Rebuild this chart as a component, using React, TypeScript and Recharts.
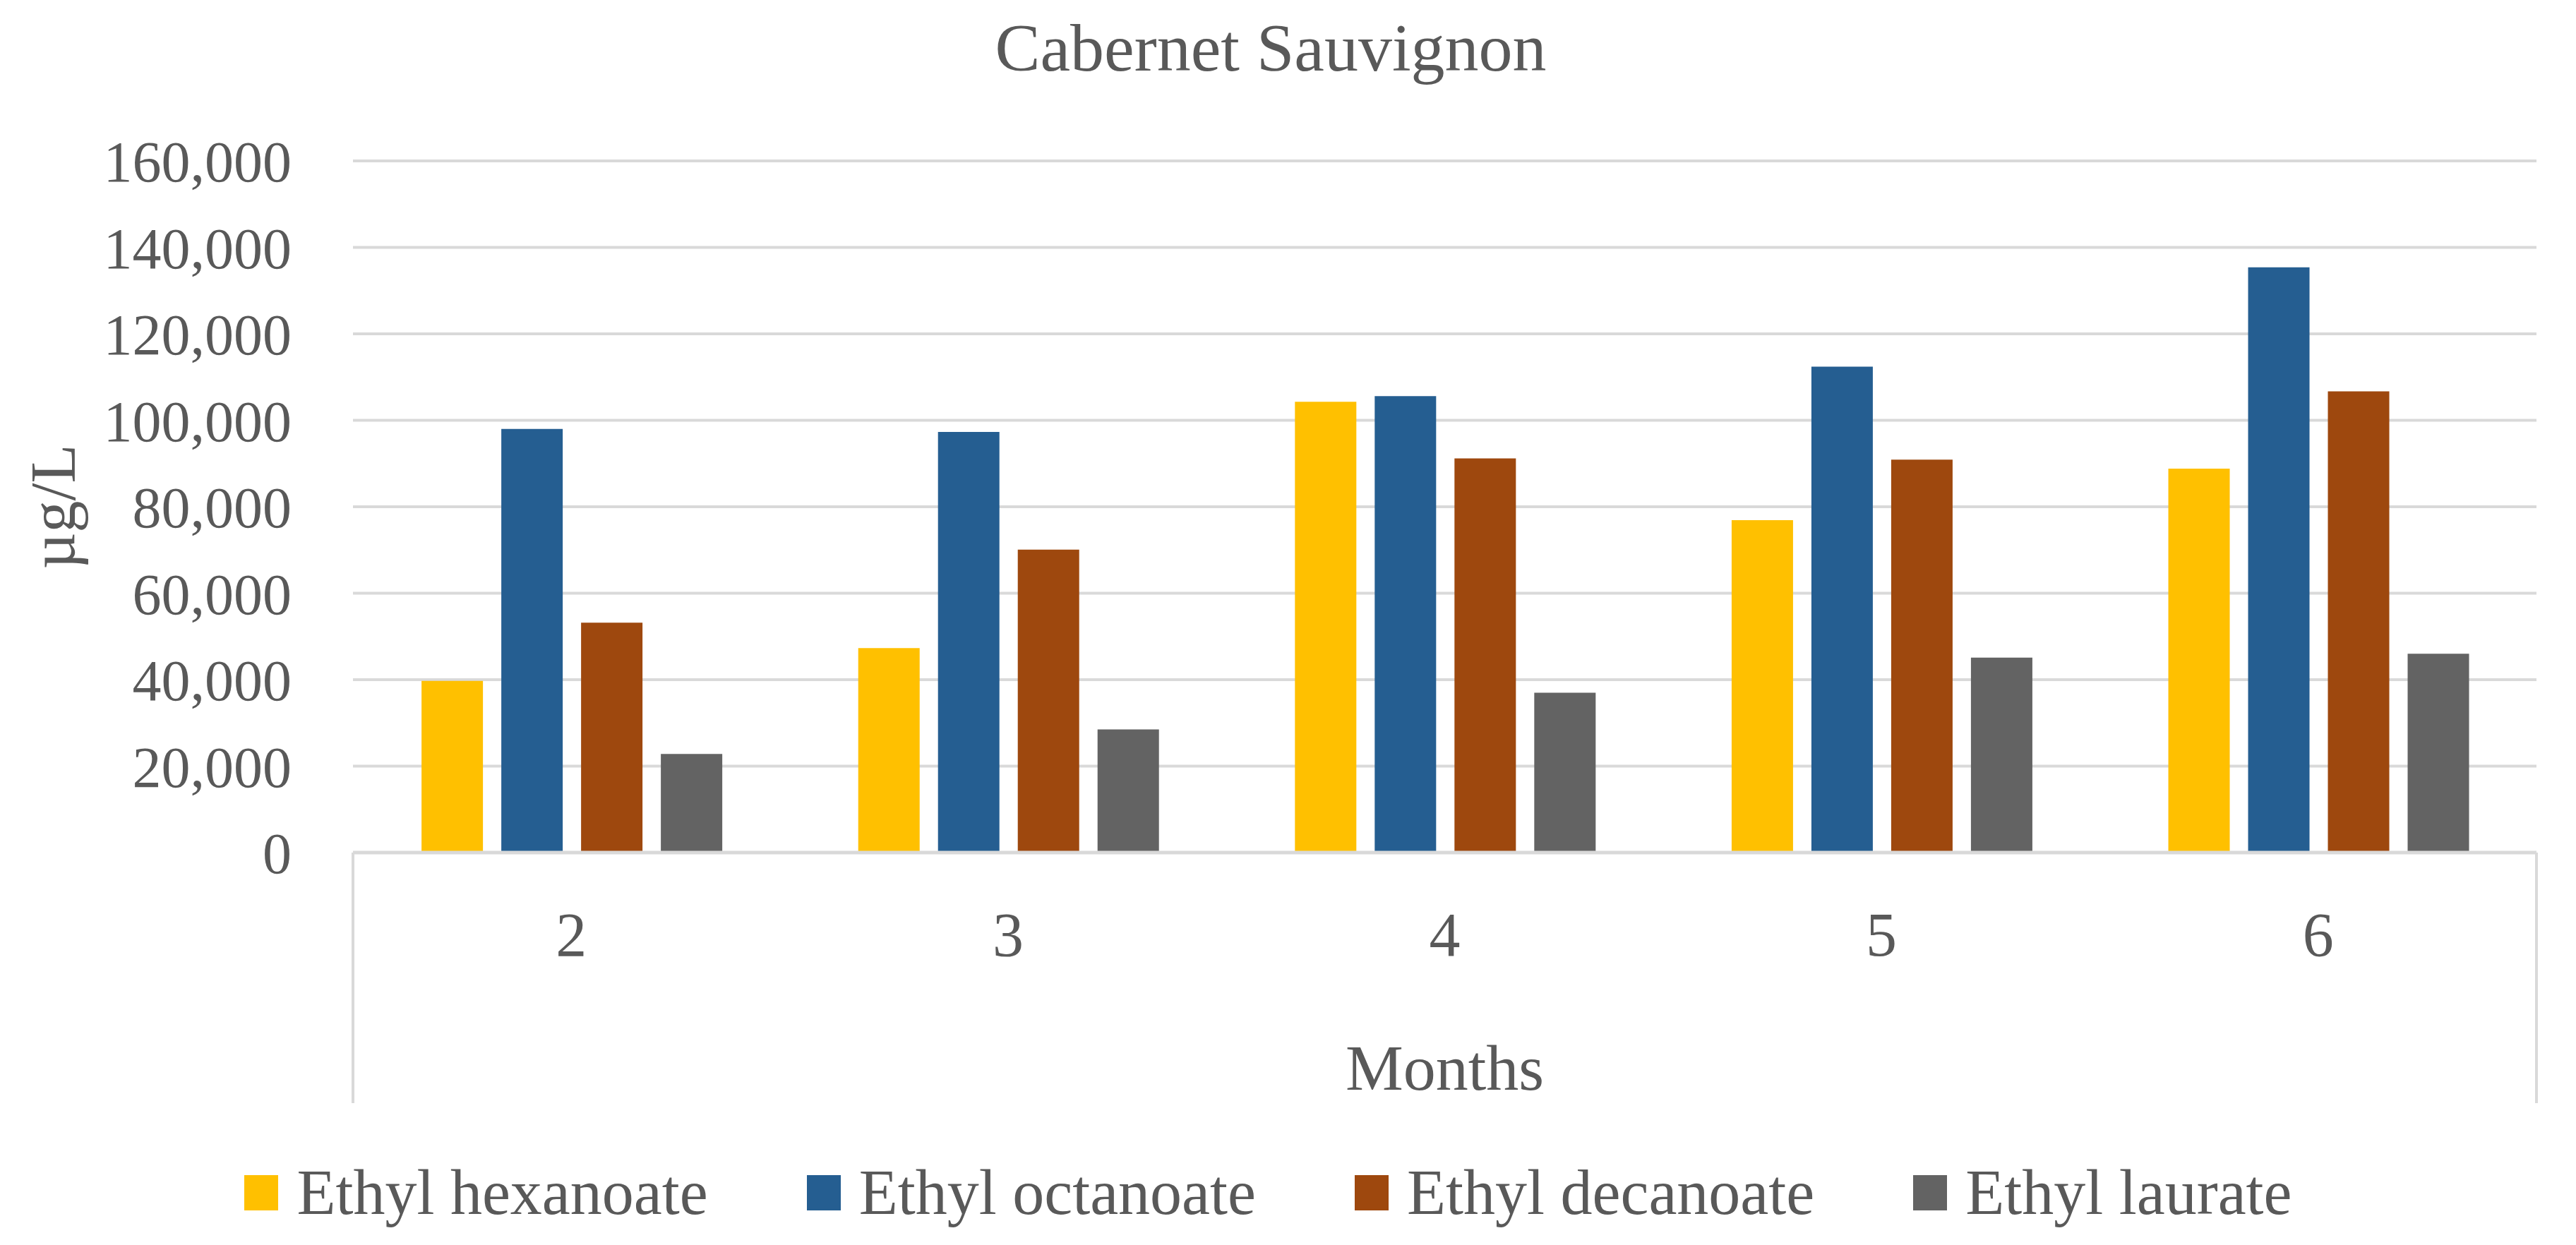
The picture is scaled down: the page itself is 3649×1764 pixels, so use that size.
import React from "react";
import {
  BarChart, Bar, XAxis, YAxis, CartesianGrid, Legend,
} from "recharts";

const months = ["2", "3", "4", "5", "6"];
const seriesNames = ["Ethyl hexanoate", "Ethyl octanoate", "Ethyl decanoate", "Ethyl laurate"];
const seriesColors = ["#FFC000", "#255E91", "#9E480E", "#636363"];
const hexanoate = [39700, 47300, 104300, 76900, 88800];
const octanoate = [98000, 97300, 105600, 112400, 135400];
const decanoate = [53200, 70100, 91200, 90900, 106700];
const laurate = [22800, 28500, 37000, 45100, 46000];
const yTicks = [0, 20000, 40000, 60000, 80000, 100000, 120000, 140000, 160000];

const data = months.map((m, i) => ({
  month: m,
  "Ethyl hexanoate": hexanoate[i],
  "Ethyl octanoate": octanoate[i],
  "Ethyl decanoate": decanoate[i],
  "Ethyl laurate": laurate[i],
}));

const FONT = '"Liberation Serif", "Times New Roman", serif';
const TEXT = "#595959";
const GRID = "#D9D9D9";

function fmt(v: number) {
  return v.toLocaleString("en-US");
}

function MonthsLabel(props: any) {
  const { x, y, width, height } = props.viewBox;
  return (
    <g>
      <line x1={x} y1={y} x2={x} y2={y + height} stroke={GRID} strokeWidth={4} />
      <line x1={x + width} y1={y} x2={x + width} y2={y + height} stroke={GRID} strokeWidth={4} />
      <text
        x={x + width / 2}
        y={y + 305}
        textAnchor="middle"
        dominantBaseline="central"
        fill={TEXT}
        fontSize={92}
        fontFamily={FONT}
      >
        Months
      </text>
    </g>
  );
}

function UnitLabel(props: any) {
  const { x, y, height } = props.viewBox;
  const cx = x + 75;
  const cy = y + height / 2;
  return (
    <text
      x={cx}
      y={cy}
      transform={`rotate(-90 ${cx} ${cy})`}
      textAnchor="middle"
      dominantBaseline="central"
      fill={TEXT}
      fontSize={90}
      fontFamily={FONT}
    >
      µg/L
    </text>
  );
}

function LegendContent({ payload }: any) {
  // keep the series order, not the alphabetical one
  const items = [...(payload || [])].sort(
    (a: any, b: any) => seriesNames.indexOf(a.value) - seriesNames.indexOf(b.value)
  );
  return (
    <div
      style={{
        height: 201,
        boxSizing: "border-box",
        paddingTop: 53,
        display: "flex",
        alignItems: "center",
        justifyContent: "center",
        gap: 140,
        fontFamily: FONT,
        fontSize: 90,
        color: TEXT,
      }}
    >
      {items.map((p: any) => (
        <div key={p.value} style={{ display: "flex", alignItems: "center" }}>
          <span style={{ width: 48, height: 50, background: p.color, marginRight: 26, display: "inline-block" }} />
          <span style={{ lineHeight: 1 }}>{p.value}</span>
        </div>
      ))}
    </div>
  );
}

export default function App() {
  return (
    <div style={{ position: "absolute", left: 0, top: 0, width: 3649, height: 1764, background: "#fff" }}>
      <div
        style={{
          position: "absolute",
          left: 1300,
          width: 1000,
          top: 0,
          height: 136,
          lineHeight: "136px",
          textAlign: "center",
          fontFamily: FONT,
          fontSize: 96,
          color: TEXT,
        }}
      >
        Cabernet Sauvignon
      </div>
      <BarChart
        width={3649}
        height={1764}
        data={data}
        margin={{ top: 228, right: 56, left: 0, bottom: 0 }}
        barCategoryGap="15.7%"
        barGap={26}
      >
        <CartesianGrid vertical={false} stroke={GRID} strokeWidth={4} />
        <XAxis
          dataKey="month"
          height={355}
          axisLine={{ stroke: GRID, strokeWidth: 5 }}
          tickLine={false}
          tickSize={0}
          tickMargin={84}
          tick={{ fill: TEXT, fontSize: 88, fontFamily: FONT }}
          label={(p: any) => <MonthsLabel {...p} />}
        />
        <YAxis
          width={500}
          domain={[0, 160000]}
          ticks={yTicks}
          tickFormatter={fmt}
          axisLine={false}
          tickLine={false}
          tickSize={0}
          tickMargin={87}
          tick={{ fill: TEXT, fontSize: 82, fontFamily: FONT }}
          label={(p: any) => <UnitLabel {...p} />}
        />
        <Legend verticalAlign="bottom" content={<LegendContent />} />
        {seriesNames.map((name, i) => (
          <Bar key={name} dataKey={name} fill={seriesColors[i]} isAnimationActive={false} />
        ))}
      </BarChart>
    </div>
  );
}
